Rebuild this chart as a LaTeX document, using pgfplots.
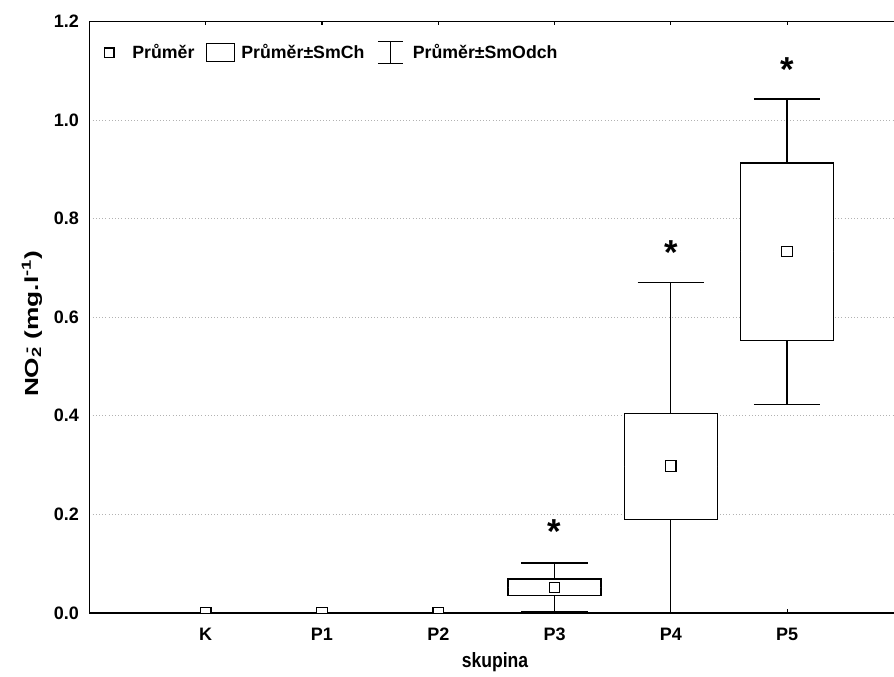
\documentclass[border=0pt]{standalone}
\usepackage{fontspec}
\setmainfont{Liberation Sans}
\usepackage{graphicx}
\usepackage{pgfplots}
\pgfplotsset{compat=1.18}
\usepgfplotslibrary{statistics}
\newcommand{\lf}{\fontsize{13.3}{15}\selectfont\bfseries}
\newcommand{\tf}{\fontsize{13.5}{15}\selectfont\bfseries}
\begin{document}
\begin{tikzpicture}
\begin{axis}[
  name=ax,
  scale only axis, width=603.4pt, height=443.6pt,
  xmin=-1, xmax=5.92, ymin=0, ymax=1.2,
  axis y line*=left,
  axis line style={line width=1.1pt, black},
  xtick={0,1,2,3,4,5}, xticklabels={K,P1,P2,P3,P4,P5},
  ytick={0,0.2,0.4,0.6,0.8,1.0,1.2},
  xticklabel style={anchor=base, yshift=-20.5pt},
  yticklabel style={anchor=east, xshift=-4.4pt,
    /pgf/number format/fixed, /pgf/number format/fixed zerofill,
    /pgf/number format/precision=1, /pgf/number format/assume math mode=true},
  tick label style={font=\tf},
  ytick style={draw=none},
  xtick style={black, line width=0.8pt},
  tick align=inside, major tick length=3pt,
  ymajorgrids, grid style={dotted, gray!60, line width=0.6pt},
  clip mode=global, clip marker paths=true,
  xlabel={\scalebox{0.85}[1]{skupina}},
  ylabel={\scalebox{1}[0.72]{NO\textsubscript{2}\llap{\textsuperscript{-}} (mg.l\textsuperscript{-1})}},
  xlabel style={font=\fontsize{15.5}{18}\selectfont\bfseries, at={(axis description cs:0.504,-0.0828)}, anchor=center},
  ylabel style={font=\fontsize{19.7}{22}\selectfont\bfseries, at={(axis description cs:-0.0715,0.4886)}, anchor=center},
  legend style={at={(axis description cs:0.0174,0.947)}, anchor=west, draw=none, fill=none,
    font=\lf, inner sep=0pt, nodes={inner sep=0pt},
    /tikz/every even column/.append style={column sep=0pt},
    /tikz/every odd column/.append style={column sep=0pt}},
  legend columns=-1,
  boxplot/draw direction=y,
]
\addlegendimage{legend image code/.code={
  \draw[black,line width=0.9pt] (0pt,-3.6pt) rectangle (7.2pt,3.6pt);
  \path[draw=none] (0pt,0pt) -- (21pt,0pt);}}
\addlegendentry{Průměr}
\addlegendimage{legend image code/.code={
  \draw[black,line width=0.9pt] (9pt,-6.75pt) rectangle (30pt,6.75pt);
  \path[draw=none] (0pt,0pt) -- (35.25pt,0pt);}}
\addlegendentry{Průměr±SmCh}
\addlegendimage{legend image code/.code={
  \draw[black,line width=0.9pt] (10pt,8.25pt) -- (28.75pt,8.25pt)
     (19.4pt,8.25pt) -- (19.4pt,-8.25pt) (10pt,-8.25pt) -- (28.75pt,-8.25pt);
  \path[draw=none] (0pt,0pt) -- (36.25pt,0pt);}}
\addlegendentry{Průměr±SmOdch}

% P3
\addplot[forget plot, black, line width=1pt, fill=white,
  boxplot/every median/.style={draw=none},
  boxplot prepared={draw position=3, lower whisker=0.003, lower quartile=0.035,
    median=0.052, upper quartile=0.069, upper whisker=0.101,
    box extend=0.8, whisker extend=0.57}] coordinates {};
% P4
\addplot[forget plot, black, line width=1pt, fill=white,
  boxplot/every median/.style={draw=none},
  boxplot prepared={draw position=4, lower whisker=-0.076, lower quartile=0.190,
    median=0.298, upper quartile=0.405, upper whisker=0.671,
    box extend=0.8, whisker extend=0.57}] coordinates {};
% P5
\addplot[forget plot, black, line width=1pt, fill=white,
  boxplot/every median/.style={draw=none},
  boxplot prepared={draw position=5, lower whisker=0.423, lower quartile=0.553,
    median=0.733, upper quartile=0.913, upper whisker=1.043,
    box extend=0.8, whisker extend=0.57}] coordinates {};
% means
\addplot[forget plot, only marks, mark=square*, mark size=3.9pt,
  mark options={line width=0.9pt, fill=white, draw=black}]
  coordinates {(0,0) (1,0) (2,0) (3,0.052) (4,0.298) (5,0.733)};

\node[font=\fontsize{26}{26}\selectfont\bfseries, anchor=base, yshift=-14.5pt] at (axis cs:3,0.181) {*};
\node[font=\fontsize{26}{26}\selectfont\bfseries, anchor=base, yshift=-14.5pt] at (axis cs:4,0.747) {*};
\node[font=\fontsize{26}{26}\selectfont\bfseries, anchor=base, yshift=-14.5pt] at (axis cs:5,1.117) {*};
\end{axis}
\pgfresetboundingbox
\path ([shift={(-67.1pt,-48pt)}]ax.south west) rectangle ([shift={(0pt,16.1pt)}]ax.north east);
\end{tikzpicture}
\end{document}
